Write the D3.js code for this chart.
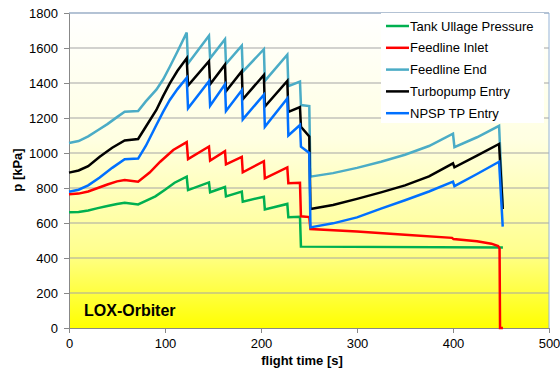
<!DOCTYPE html>
<html lang="en">
<head>
<meta charset="UTF-8">
<title>LOX-Orbiter pressures</title>
<script src="https://d3js.org/d3.v7.min.js"></script>
<style>
  body { margin: 0; background: #fff; font-family: "Liberation Sans", Arial, sans-serif; }
  .axis text { font-size: 13px; fill: #000; }
  .axis path, .axis line { stroke: #888; }
  .title { font-weight: bold; font-size: 13px; }
  .legend text { font-size: 13px; }
</style>
</head>
<body>
<div id="chart"></div>
<script>
// [flight time s, pressure kPa]
const tankUllage = [
  [0,661],[10,663],[20,672],[30,685],[40,697],[50,709],[58,716],[72,706],[80,727],[90,752],[100,790],[110,830],
  [122.6,865],[124,788],[145.8,832],[147,776],[162.5,806],[163.5,752],[180,779],[181,722],[203,750],[204,678],
  [227.4,709],[228.5,633],[240.6,636],[241.6,465],[452,460]
];
const feedlineInlet = [
  [0,764],[10,768],[20,780],[30,800],[40,820],[50,838],[58,846],[72,836],[84,888],[95,950],[108.6,1017],
  [122.6,1062],[124,965],[145.8,1037],[147,957],[162.5,1010],[163.5,935],[180,978],[181,890],[203,953],[204,855],
  [227.4,918],[228.5,827],[240.6,830],[241.6,638],[250.3,634],[251.5,566],[300,551],[350,533],[399,515],
  [400.5,508],[425,496],[440,482],[447,468],[448.5,455],[449,0],[452,0]
];
const feedlineEnd = [
  [0,1057],[10,1068],[20,1095],[30,1130],[40,1165],[50,1205],[58,1236],[72,1240],[80,1295],[91,1362],[98,1420],
  [105,1493],[113,1580],[122.6,1688],[124,1512],[145.8,1670],[147,1541],[162.5,1650],[163.5,1509],[180,1613],
  [181,1465],[203,1593],[204,1412],[227.4,1562],[228.5,1382],[240.6,1408],[241.6,1274],[250.3,1268],[251.5,865],
  [275,885],[300,915],[325,950],[350,990],[375,1040],[400,1110],[401.5,1033],[425,1090],[448,1155],[451.8,690]
];
const turbopumpEntry = [
  [0,888],[10,900],[20,925],[32,979],[45,1030],[58,1072],[72,1080],[80,1150],[91,1246],[98,1325],[105,1398],
  [113,1470],[122.6,1541],[124,1385],[145.8,1525],[147,1393],[162.5,1505],[163.5,1353],[180,1467],[181,1307],
  [203,1446],[204,1265],[227.4,1412],[228.5,1235],[240.6,1262],[241.6,1150],[250.3,1095],[251.5,680],[275,703],
  [300,738],[325,775],[350,815],[375,866],[400,941],[401.5,918],[425,985],[448,1052],[451.8,680]
];
const npspTpEntry = [
  [0,779],[10,790],[20,815],[32,860],[45,915],[58,964],[72,968],[80,1040],[91,1160],[98,1235],[105,1303],
  [113,1365],[122.6,1430],[124,1255],[145.8,1410],[147,1270],[162.5,1392],[163.5,1240],[180,1358],[181,1192],
  [203,1333],[204,1150],[227.4,1312],[228.5,1100],[240.6,1160],[241.6,1036],[250.3,1000],[251.5,575],[275,598],
  [300,632],[325,682],[350,730],[375,780],[400,836],[401.5,811],[425,880],[448,950],[451.8,579]
];

const seriesNames = ["Tank Ullage Pressure", "Feedline Inlet", "Feedline End", "Turbopump Entry", "NPSP TP Entry"];
const seriesColors = ["#00B050", "#FF0000", "#4BACC6", "#000000", "#0070FF"];
const seriesData = [tankUllage, feedlineInlet, feedlineEnd, turbopumpEntry, npspTpEntry];
const xTicks = [0, 100, 200, 300, 400, 500];
const yTicks = [0, 200, 400, 600, 800, 1000, 1200, 1400, 1600, 1800];

const W = 560, H = 369;
const margin = { top: 13, right: 11, bottom: 41, left: 69 };
const width = W - margin.left - margin.right;
const height = H - margin.top - margin.bottom;

const svg = d3.select("#chart").append("svg")
  .attr("width", W).attr("height", H);

const defs = svg.append("defs");
const grad = defs.append("linearGradient")
  .attr("id", "bg").attr("x1", 0).attr("y1", 0).attr("x2", 0).attr("y2", 1);
grad.append("stop").attr("offset", "0%").attr("stop-color", "#FFFFFF");
grad.append("stop").attr("offset", "40%").attr("stop-color", "#FFFFE2");
grad.append("stop").attr("offset", "75%").attr("stop-color", "#FFFF90");
grad.append("stop").attr("offset", "100%").attr("stop-color", "#FFFF00");

const g = svg.append("g").attr("transform", `translate(${margin.left},${margin.top})`);

const x = d3.scaleLinear().domain([0, 500]).range([0, width]);
const y = d3.scaleLinear().domain([0, 1800]).range([height, 0]);

g.append("rect").attr("width", width).attr("height", height).attr("fill", "url(#bg)");

// gridlines
g.append("g").selectAll("line").data(yTicks.slice(1)).join("line")
  .attr("x1", 0).attr("x2", width)
  .attr("y1", d => y(d)).attr("y2", d => y(d))
  .attr("stroke", "#A6A6A6").attr("stroke-width", 1.2);

// border top/right
g.append("path")
  .attr("d", `M0,0H${width}V${height}`)
  .attr("fill", "none").attr("stroke", "#95B3D7").attr("stroke-width", 1);

g.append("g").attr("class", "axis")
  .attr("transform", `translate(0,${height})`)
  .call(d3.axisBottom(x).tickValues(xTicks).tickFormat(d3.format("d"))
    .tickSize(5).tickSizeOuter(0).tickPadding(6));

g.append("g").attr("class", "axis")
  .call(d3.axisLeft(y).tickValues(yTicks).tickFormat(d3.format("d"))
    .tickSize(5).tickSizeOuter(0).tickPadding(6));

const line = d3.line().x(d => x(d[0])).y(d => y(d[1]));

g.append("g").selectAll("path").data(seriesData).join("path")
  .attr("d", line)
  .attr("fill", "none")
  .attr("stroke", (d, i) => seriesColors[i])
  .attr("stroke-width", 2.5)
  .attr("stroke-linejoin", "miter");

// legend
const lg = svg.append("g").attr("class", "legend").attr("transform", "translate(381,13)");
lg.append("rect").attr("width", 163).attr("height", 110).attr("fill", "#fff");
const items = lg.selectAll("g").data(seriesNames).join("g")
  .attr("transform", (d, i) => `translate(0,${13 + i * 21.8})`);
items.append("line").attr("x1", 5).attr("x2", 28)
  .attr("stroke", (d, i) => seriesColors[i]).attr("stroke-width", 2.5);
items.append("text").attr("x", 29).attr("dy", "0.36em").text(d => d);

// labels
g.append("text").attr("class", "title")
  .attr("x", 15).attr("y", height - 12)
  .style("font-size", "16px").text("LOX-Orbiter");

svg.append("text").attr("class", "title")
  .attr("x", margin.left + width / 2 - 7).attr("y", 365)
  .attr("text-anchor", "middle").text("flight time [s]");

svg.append("text").attr("class", "title")
  .attr("transform", "translate(22,170) rotate(-90)")
  .attr("text-anchor", "middle").text("p [kPa]");
</script>
</body>
</html>
